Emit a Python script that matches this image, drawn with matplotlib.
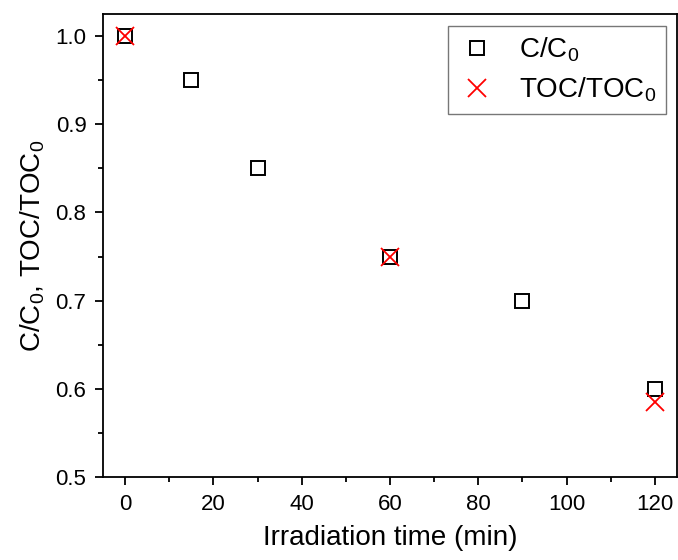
import matplotlib
matplotlib.use("Agg")
import matplotlib.pyplot as plt

plt.rcParams['font.family'] = ['Liberation Sans', 'DejaVu Sans']
plt.rcParams['mathtext.default'] = 'regular'

time_c = [0, 15, 30, 60, 90, 120]
c_ratio = [1.0, 0.95, 0.85, 0.75, 0.70, 0.60]
time_toc = [0, 60, 120]
toc_ratio = [1.0, 0.75, 0.585]

fig = plt.figure(figsize=(6.78, 5.60), dpi=100)
ax = fig.add_axes([0.152, 0.148, 0.8465, 0.827])

ax.plot(time_c, c_ratio, linestyle='none', marker='s', markersize=9.5,
        markerfacecolor='none', markeredgecolor='black', markeredgewidth=1.4,
        label='C/C$_0$')
ax.plot(time_toc, toc_ratio, linestyle='none', marker='x', markersize=13,
        color='red', markeredgewidth=1.3, label='TOC/TOC$_0$')

ax.set_xlim(-5, 125)
ax.set_ylim(0.5, 1.025)
ax.set_xticks([0, 20, 40, 60, 80, 100, 120])
ax.set_xticks([10, 30, 50, 70, 90, 110], minor=True)
ax.set_yticks([0.5, 0.6, 0.7, 0.8, 0.9, 1.0])
ax.set_yticks([0.55, 0.65, 0.75, 0.85, 0.95], minor=True)
ax.tick_params(axis='both', which='major', direction='out', length=6, width=1.3,
               labelsize=16, pad=6)
ax.tick_params(axis='both', which='minor', direction='out', length=3.5, width=1.3)
for s in ax.spines.values():
    s.set_linewidth(1.3)

ax.set_xlabel('Irradiation time (min)', fontsize=20, labelpad=7)
ax.set_ylabel('C/C$_0$, TOC/TOC$_0$', fontsize=20, labelpad=6)

leg = ax.legend(loc='upper right', fontsize=20, frameon=True, fancybox=False,
                edgecolor='#555555', handletextpad=0.8, borderpad=0.35,
                labelspacing=0.4, handlelength=1.4, borderaxespad=0,
                bbox_to_anchor=(0.981, 0.974))
leg.get_frame().set_linewidth(1.0)

fig.savefig('out.png', dpi=100)
